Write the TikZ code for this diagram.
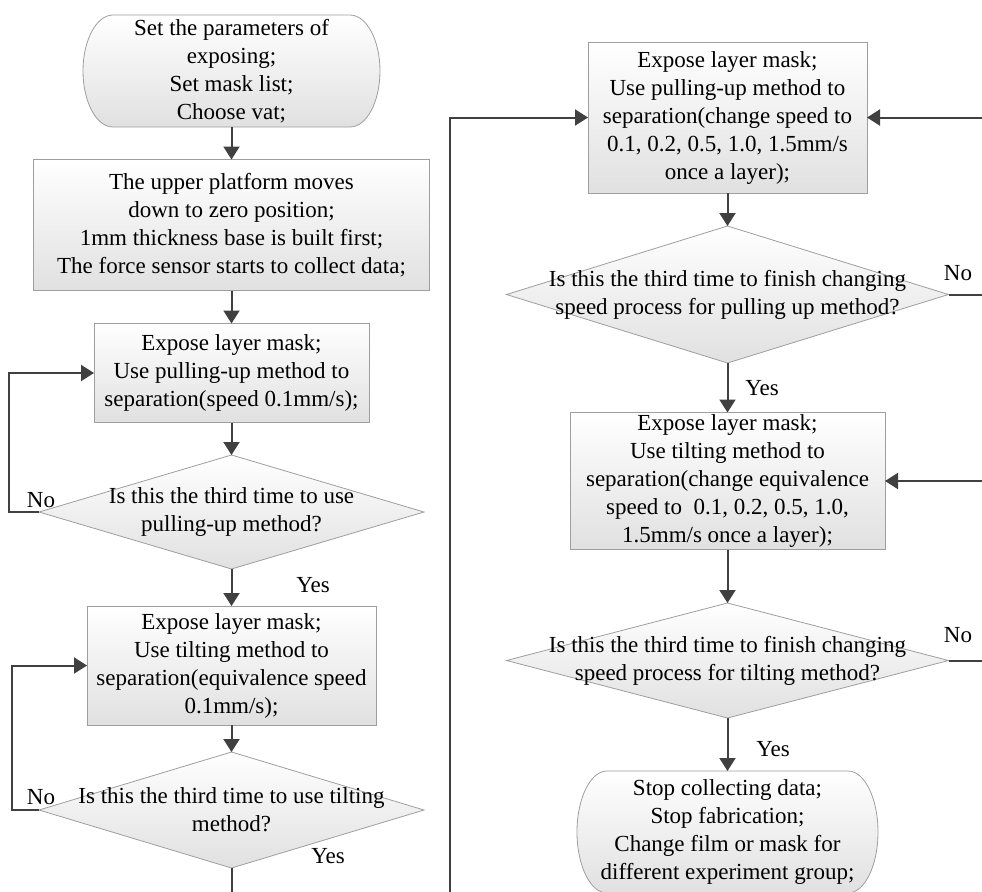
\documentclass[tikz,border=0pt]{standalone}
\usepackage{fontspec}
\setmainfont{Liberation Serif}
\usetikzlibrary{shapes.geometric,arrows.meta,backgrounds}

\tikzset{
  box/.style={draw=black!38, top color=white, bottom color=black!12,
    inner sep=0pt, outer sep=0pt, align=center,
    font=\fontsize{11.5}{14}\selectfont},
  terminal/.style={inner sep=0pt, outer sep=0pt, align=center,
    font=\fontsize{11.5}{14}\selectfont},
  outline/.style={draw=black!38, top color=white, bottom color=black!12},
  decision/.style={box, diamond},
  tag/.style={font=\fontsize{11.5}{14}\selectfont, align=center, inner sep=0pt},
  flow/.style={draw=black!75, line width=1pt, -{Triangle[width=8pt,length=6.5pt]}}
}

\begin{document}
\begin{tikzpicture}[x=0.5pt, y=-0.5pt]
    \useasboundingbox (0,0) rectangle (982,891);
    \clip (0,0) rectangle (982,891);

    % left column
    \node[terminal, minimum width=148.5pt, minimum height=56pt] (start) at (231.5,71)
        {Set the parameters of\\ exposing;\\ Set mask list;\\ Choose vat;};
    \node[box, minimum width=198pt, minimum height=65.5pt] (setup) at (231.5,225)
        {The upper platform moves\\ down to zero position;\\ 1mm thickness base is built first;\\ The force sensor starts to collect data;};
    \node[box, minimum width=137.5pt, minimum height=49.5pt] (pull) at (231.5,373)
        {Expose layer mask;\\ Use pulling-up method to\\ separation(speed 0.1mm/s);};
    \node[decision, minimum width=192.5pt, minimum height=57pt,
        label={[tag]center:Is this the third time to use\\ pulling-up method?}] (askpull) at (231.5,512) {};
    \node[box, minimum width=144.5pt, minimum height=59.5pt] (tilt) at (231.5,665.5)
        {Expose layer mask;\\ Use tilting method to\\ separation(equivalence speed\\ 0.1mm/s);};
    \node[decision, minimum width=192.5pt, minimum height=58pt,
        label={[tag]center:Is this the third time to use tilting\\ method?}] (asktilt) at (231.5,810) {};

    % right column
    \node[box, minimum width=139.5pt, minimum height=75.5pt] (pullvar) at (727.5,117.5)
        {Expose layer mask;\\ Use pulling-up method to\\ separation(change speed to\\ 0.1, 0.2, 0.5, 1.0, 1.5mm/s\\ once a layer);};
    \node[decision, minimum width=221pt, minimum height=68.5pt,
        label={[tag]center:Is this the third time to finish changing\\ speed process for pulling up method?}] (askpullvar) at (727.5,294.5) {};
    \node[box, minimum width=157.5pt, minimum height=68.5pt] (tiltvar) at (727.5,481)
        {Expose layer mask;\\ Use tilting method to\\ separation(change equivalence\\ speed to \ 0.1, 0.2, 0.5, 1.0,\\ 1.5mm/s once a layer);};
    \node[decision, minimum width=221pt, minimum height=57.5pt,
        label={[tag]center:Is this the third time to finish changing\\ speed process for tilting method?}] (asktiltvar) at (727.5,660.5) {};
    \node[terminal, minimum width=150.5pt, minimum height=61pt] (stop) at (727.5,832)
        {Stop collecting data;\\ Stop fabrication;\\ Change film or mask for\\ different experiment group;};

    % terminal outlines with elliptic ends
    \begin{scope}[on background layer]
    \foreach \t/\ry in {start/28pt, stop/30.5pt} {
        \path[outline] ([xshift=15pt]\t.north west) -- ([xshift=-15pt]\t.north east)
            arc[start angle=90, end angle=-90, x radius=15pt, y radius=\ry]
            -- ([xshift=15pt]\t.south west)
            arc[start angle=270, end angle=90, x radius=15pt, y radius=\ry] -- cycle;
    }
    \end{scope}

    % turning point below the page
    \coordinate (low) at (450,930);

    % connectors
    \draw[flow] (start) -- (setup);
    \draw[flow] (setup) -- (pull);
    \draw[flow] (pull) -- (askpull);
    \draw[flow] (askpull) -- (tilt);
    \draw[flow] (tilt) -- (asktilt);
    \draw[flow] (askpull.west) -- ++(-30,0) |- (pull.west);
    \draw[flow] (asktilt.west) -- ++(-27,0) |- (tilt.west);
    \draw[flow] (asktilt.south) |- (low) |- (pullvar.west);
    \draw[flow] (pullvar) -- (askpullvar);
    \draw[flow] (askpullvar) -- (tiltvar);
    \draw[flow] (tiltvar) -- (asktiltvar);
    \draw[flow] (asktiltvar) -- (stop);
    \draw[flow] (askpullvar.east) -- ++(60,0) |- (pullvar.east);
    \draw[flow] (asktiltvar.east) -- ++(60,0) |- (tiltvar.east);

    % answers
    \node[tag] (no1) at (41,500) {No};
    \node[tag] (yes1) at (313,585) {Yes};
    \node[tag] (no2) at (41,797) {No};
    \node[tag] (yes2) at (328,856) {Yes};
    \node[tag] (no3) at (958,273) {No};
    \node[tag] (yes3) at (762,388) {Yes};
    \node[tag] (no4) at (958,635) {No};
    \node[tag] (yes4) at (773,749) {Yes};
\end{tikzpicture}
\end{document}
